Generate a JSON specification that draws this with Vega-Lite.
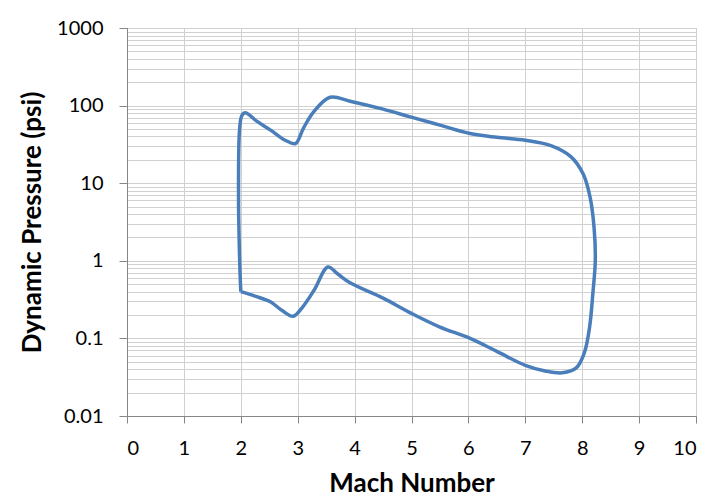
{
  "$schema": "https://vega.github.io/schema/vega-lite/v6.json",
  "width": 569,
  "height": 388,
  "autosize": {"type": "none"},
  "padding": {"left": 127, "top": 28, "right": 27, "bottom": 87},
  "background": "white",
  "config": {
    "view": {"stroke": "#a0a0a0", "strokeWidth": 1},
    "font": "Lato"
  },
  "data": {
    "values": [
      {"i": 0, "mach": 2.0, "q": 0.40},
      {"i": 1, "mach": 2.25, "q": 0.35},
      {"i": 2, "mach": 2.52, "q": 0.296},
      {"i": 3, "mach": 2.72, "q": 0.23},
      {"i": 4, "mach": 2.92, "q": 0.193},
      {"i": 5, "mach": 3.08, "q": 0.25},
      {"i": 6, "mach": 3.29, "q": 0.42},
      {"i": 7, "mach": 3.53, "q": 0.83},
      {"i": 8, "mach": 3.7, "q": 0.68},
      {"i": 9, "mach": 3.92, "q": 0.52},
      {"i": 10, "mach": 4.5, "q": 0.33},
      {"i": 11, "mach": 5.0, "q": 0.21},
      {"i": 12, "mach": 5.5, "q": 0.14},
      {"i": 13, "mach": 6.03, "q": 0.10},
      {"i": 14, "mach": 6.5, "q": 0.068},
      {"i": 15, "mach": 7.0, "q": 0.045},
      {"i": 16, "mach": 7.35, "q": 0.038},
      {"i": 17, "mach": 7.65, "q": 0.036},
      {"i": 18, "mach": 7.9, "q": 0.042},
      {"i": 19, "mach": 8.04, "q": 0.066},
      {"i": 20, "mach": 8.13, "q": 0.14},
      {"i": 21, "mach": 8.19, "q": 0.4},
      {"i": 22, "mach": 8.23, "q": 1.0},
      {"i": 23, "mach": 8.21, "q": 2.6},
      {"i": 24, "mach": 8.14, "q": 6.5},
      {"i": 25, "mach": 8.02, "q": 13},
      {"i": 26, "mach": 7.8, "q": 22},
      {"i": 27, "mach": 7.45, "q": 30.5},
      {"i": 28, "mach": 7.0, "q": 35.8},
      {"i": 29, "mach": 6.5, "q": 39},
      {"i": 30, "mach": 6.03, "q": 43.6},
      {"i": 31, "mach": 5.5, "q": 56},
      {"i": 32, "mach": 4.98, "q": 71.5},
      {"i": 33, "mach": 4.5, "q": 90},
      {"i": 34, "mach": 3.92, "q": 114},
      {"i": 35, "mach": 3.57, "q": 128},
      {"i": 36, "mach": 3.28, "q": 83},
      {"i": 37, "mach": 3.1, "q": 51},
      {"i": 38, "mach": 2.96, "q": 32.4},
      {"i": 39, "mach": 2.78, "q": 35.8},
      {"i": 40, "mach": 2.53, "q": 48},
      {"i": 41, "mach": 2.28, "q": 63},
      {"i": 42, "mach": 2.08, "q": 81},
      {"i": 43, "mach": 2.02, "q": 75},
      {"i": 44, "mach": 1.98, "q": 51},
      {"i": 45, "mach": 1.96, "q": 7.7},
      {"i": 46, "mach": 1.98, "q": 1.0},
      {"i": 47, "mach": 2.0, "q": 0.40}
    ]
  },
  "mark": {"type": "line", "interpolate": "catmull-rom", "color": "#4a7ebb", "strokeWidth": 3.5},
  "encoding": {
    "order": {"field": "i", "type": "quantitative"},
    "x": {
      "field": "mach",
      "type": "quantitative",
      "scale": {"domain": [0, 10], "nice": false},
      "axis": {
        "title": "Mach Number",
        "values": [0, 1, 2, 3, 4, 5, 6, 7, 8, 9, 10],
        "format": "d",
        "grid": true,
        "gridColor": "#d0d0d0",
        "gridWidth": 1,
        "domainColor": "#868686",
        "tickColor": "#868686",
        "tickSize": 7,
        "labelFont": "Lato",
        "labelFontSize": 20,
        "labelColor": "#000000",
        "labelPadding": 15,
        "titleFont": "Lato",
        "titleFontSize": 26,
        "titleFontWeight": "bold",
        "titleColor": "#000000",
        "titlePadding": 12
      }
    },
    "y": {
      "field": "q",
      "type": "quantitative",
      "scale": {"type": "log", "domain": [0.01, 1000], "nice": false},
      "axis": {
        "title": "Dynamic Pressure (psi)",
        "values": [0.01, 0.02, 0.03, 0.04, 0.05, 0.06, 0.07, 0.08, 0.09, 0.1, 0.2, 0.3, 0.4, 0.5, 0.6, 0.7, 0.8, 0.9, 1, 2, 3, 4, 5, 6, 7, 8, 9, 10, 20, 30, 40, 50, 60, 70, 80, 90, 100, 200, 300, 400, 500, 600, 700, 800, 900, 1000],
        "labelExpr": "indexof([0.01, 0.1, 1, 10, 100, 1000], datum.value) >= 0 ? format(datum.value, '~g') : ''",
        "tickOpacity": {"condition": {"test": "indexof([0.01, 0.1, 1, 10, 100, 1000], datum.value) >= 0", "value": 1}, "value": 0},
        "grid": true,
        "gridColor": "#d0d0d0",
        "gridWidth": 1,
        "domainColor": "#868686",
        "tickColor": "#868686",
        "tickSize": 8,
        "labelFont": "Lato",
        "labelFontSize": 20,
        "labelColor": "#000000",
        "labelPadding": 16,
        "labelOverlap": false,
        "titleFont": "Lato",
        "titleFontSize": 26,
        "titleFontWeight": "bold",
        "titleColor": "#000000",
        "titlePadding": 11
      }
    }
  }
}
